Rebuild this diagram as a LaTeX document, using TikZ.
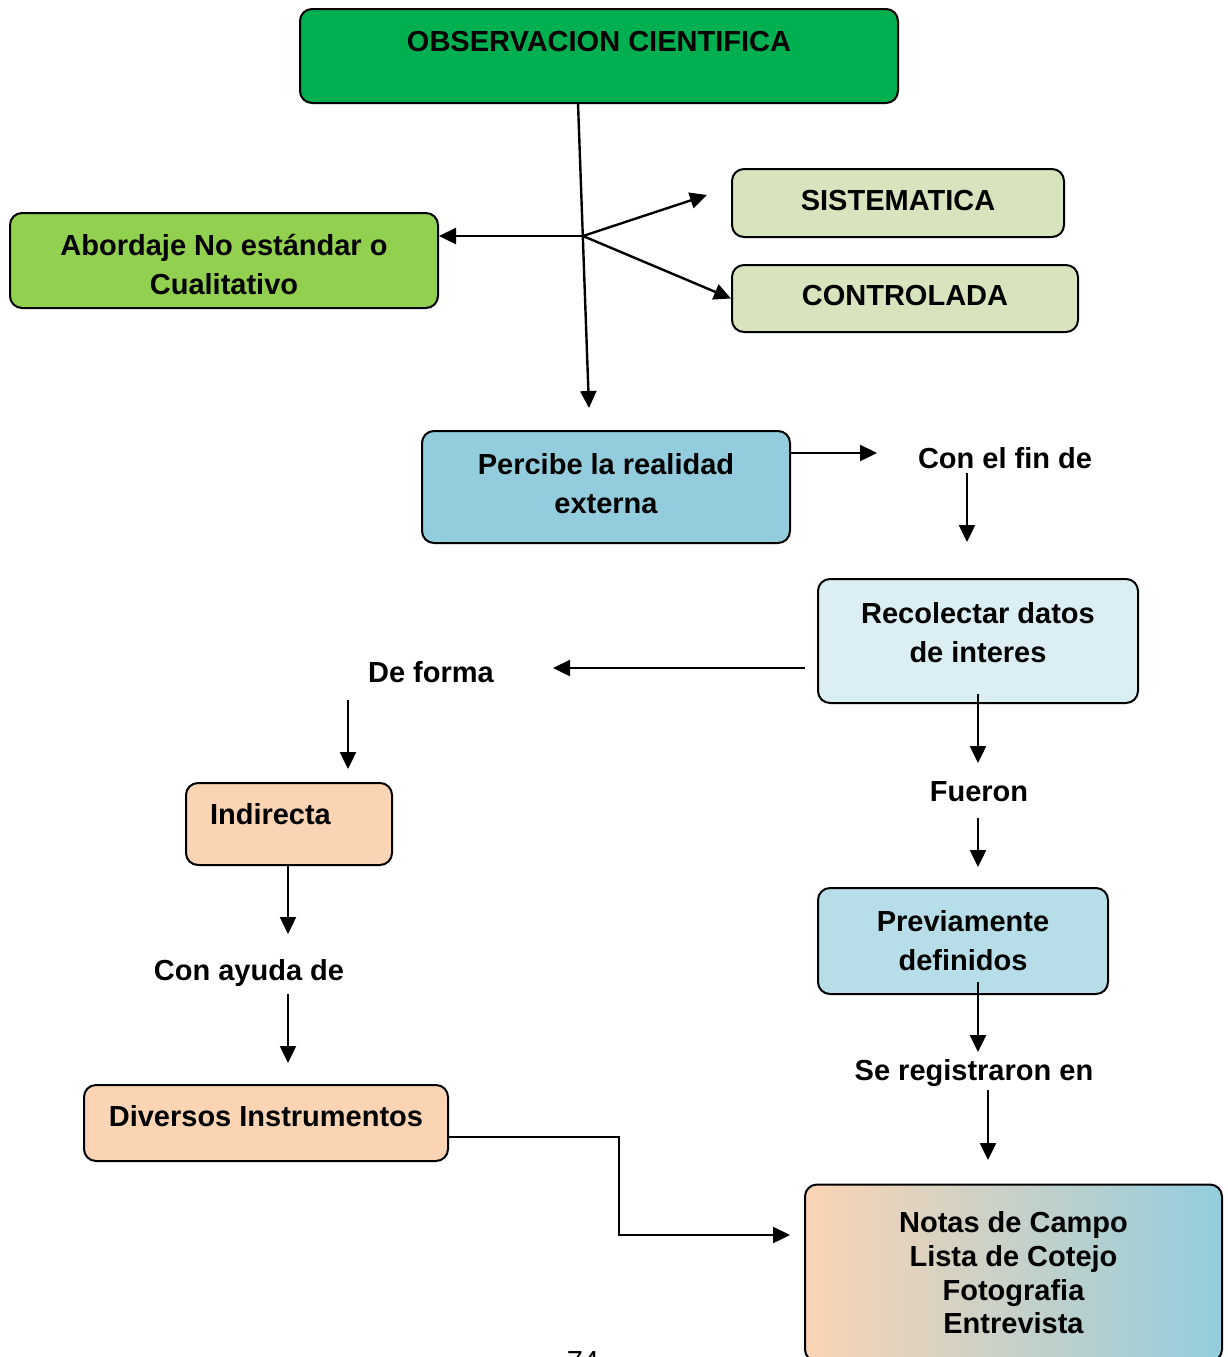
\documentclass[tikz,border=0pt]{standalone}
\usepackage{fontspec}
\setmainfont{Liberation Sans}
\usetikzlibrary{arrows.meta}
\definecolor{verdeobs}{HTML}{00B050}
\definecolor{verdeabo}{HTML}{92D050}
\definecolor{olivo}{HTML}{D7E4BD}
\definecolor{azulper}{HTML}{93CDDD}
\definecolor{azulrec}{HTML}{DBEEF4}
\definecolor{azulpre}{HTML}{B7DEE8}
\definecolor{durazno}{HTML}{FBD4B4}
\tikzstyle{caja}=[
    draw, line width=1pt,
    rounded corners=6pt,
    inner sep=0pt,
    align=center,
    font=\bfseries\fontsize{14.5}{19.5}\selectfont,
]
\tikzstyle{rotulo}=[inner sep=0pt, font=\bfseries\fontsize{14.5}{19.5}\selectfont]
\tikzstyle{flecha}=[line width=1.2pt, -{Triangle[length=8.5pt,width=8pt]}]

\begin{document}
\begin{tikzpicture}[x=0.5pt,y=-0.5pt]
        \useasboundingbox (0,0) rectangle (1228,1357);
        \clip (0,0) rectangle (1228,1357);
        \node (obs) at (599,56) [caja, fill=verdeobs, minimum width=299pt, minimum height=47pt, text height=10.5pt, text depth=15pt] {OBSERVACION CIENTIFICA};
        \node (abord) at (224,260.5) [caja, fill=verdeabo, minimum width=214pt, minimum height=47.5pt, text height=34pt, text depth=0pt] {Abordaje No estándar o\\Cualitativo};
        \node (sist) at (898,203) [caja, fill=olivo, minimum width=166pt, minimum height=34pt, text depth=3pt] {SISTEMATICA};
        \node (contr) at (905,298.5) [caja, fill=olivo, minimum width=173pt, minimum height=33.5pt, text depth=3pt] {CONTROLADA};
        \node (perc) at (606,487) [caja, fill=azulper, minimum width=184pt, minimum height=56pt, text depth=3.5pt] {Percibe la realidad\\externa};
        \node (confin) at (1005,458) [rotulo] {Con el fin de};
        \node (recol) at (978,641) [caja, fill=azulrec, minimum width=160pt, minimum height=62pt, text depth=9pt] {Recolectar datos\\de interes};
        \node (deforma) at (431,672) [rotulo] {De forma};
        \node (fueron) at (979,792) [rotulo] {Fueron};
        \node (indir) at (289,824) [caja, fill=durazno, minimum width=103pt, minimum height=41pt, text width=79pt, align=left, text height=10pt, text depth=10pt] {Indirecta};
        \node (ayuda) at (249,973) [rotulo] {Con ayuda de};
        \node (prev) at (963,941) [caja, fill=azulpre, minimum width=145pt, minimum height=53pt] {Previamente\\definidos};
        \node (regis) at (974,1073) [rotulo] {Se registraron en};
        \node (diver) at (266,1123) [caja, fill=durazno, minimum width=182pt, minimum height=38pt, text depth=7pt] {Diversos Instrumentos};
        \node (notas) at (1013.5,1273) [caja, left color=durazno, right color=azulper, minimum width=208.5pt, minimum height=88.5pt, font=\bfseries\fontsize{14.5}{16.8}\selectfont] {Notas de Campo\\Lista de Cotejo\\Fotografia\\Entrevista};
        \node (pagina) at (583,1362) [rotulo, font=\fontsize{14.5}{16}\selectfont] {74};

        \coordinate (o1) at (578,103);
        \coordinate (o2) at (589,408);
        \coordinate (ramif) at (583,236);
        \coordinate (s1) at (707,195);
        \coordinate (p1) at (790,453);
        \coordinate (p2) at (877,453);
        \coordinate (c1) at (967,473);
        \coordinate (c2) at (967,542);
        \coordinate (r1) at (805,668);
        \coordinate (r2) at (553,668);
        \coordinate (r3) at (978,694);
        \coordinate (r4) at (978,763);
        \coordinate (f1) at (978,818);
        \coordinate (f2) at (978,867);
        \coordinate (v1) at (978,982);
        \coordinate (v2) at (978,1052);
        \coordinate (g1) at (988,1090);
        \coordinate (g2) at (988,1160);
        \coordinate (d1) at (348,700);
        \coordinate (d2) at (348,769);
        \coordinate (a1) at (288,994);
        \coordinate (a2) at (288,1063);
        \coordinate (i1) at (288,934);
        \coordinate (n1) at (790,1235);

        \draw[flecha] (o1) -- (o2);
        \draw[flecha] (ramif) -- (ramif -| abord.east);
        \draw[flecha] (ramif) -- (s1);
        \draw[flecha] (ramif) -- (contr.west);
        \draw[flecha] (p1) -- (p2);
        \draw[flecha] (c1) -- (c2);
        \draw[flecha] (r1) -- (r2);
        \draw[flecha] (r3) -- (r4);
        \draw[flecha] (f1) -- (f2);
        \draw[flecha] (v1) -- (v2);
        \draw[flecha] (g1) -- (g2);
        \draw[flecha] (d1) -- (d2);
        \draw[flecha] (indir.south -| i1) -- (i1);
        \draw[flecha] (a1) -- (a2);
        \draw[flecha] (diver.east |- 0,1137) -| (619,1235) -- (n1);
    \end{tikzpicture}
\end{document}
